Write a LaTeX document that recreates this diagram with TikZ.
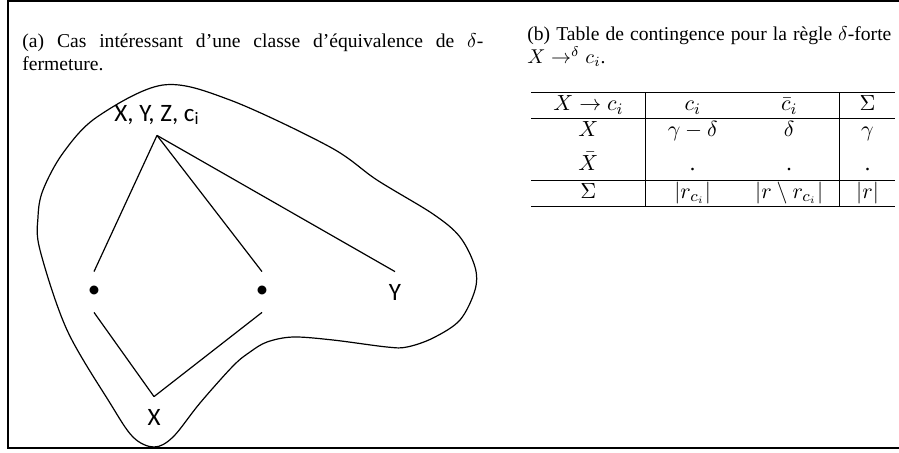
\documentclass[tikz,border=0pt]{standalone}
\usepackage{fontspec}
\setmainfont{Liberation Serif}
\newfontfamily\lblfont{Carlito}
\usepackage{array}
\usepackage{tikz}
\usetikzlibrary{positioning}
\newcolumntype{C}[1]{>{\centering\arraybackslash}p{#1}}
\newcommand{\capsize}{\fontsize{9.8}{11.5}\selectfont}

\begin{document}
\begin{tikzpicture}[x=0.5pt, y=-0.5pt,
    lbl/.style={font=\lblfont\fontsize{12.5}{14}\selectfont, minimum height=20pt, inner sep=0pt},
    edge/.style={line width=0.6pt},
    caption/.style={font=\capsize, inner sep=0pt, anchor=north west, align=justify}]
  \useasboundingbox (0,0) rectangle (899,452);
  \draw[line width=0.6pt] (899,1) -- (8,1) -- (8,448) -- (899,448);

  \node[caption, text width=230.5pt] (capa) at (22,33) {%
    (a) Cas intéressant d'une classe d'équivalence de $\delta$-\linebreak fermeture.};
  \node[caption, text width=182pt] (capb) at (527,26) {%
    (b) Table de contingence pour la règle $\delta$-forte\linebreak $X \rightarrow^{\delta} c_i$.};

  \draw[edge] plot[smooth cycle, tension=0.55] coordinates {
    (163,85) (230,100) (330,147) (377,180) (433,214) (460,237) (475,267)
    (475,290) (460,320) (433,338) (407,347) (387,347) (333,340) (293,337)
    (267,342) (250,352) (233,366) (200,403) (173,437) (154,447) (133,437)
    (110,403) (67,330) (40,250) (38,217) (43,190) (63,153) (97,117)};

  \node[lbl] (top) at (157,115) {X, Y, Z, c\textsubscript{i}};
  \node[lbl] (d1) at (94,292) {\textbullet};
  \node[lbl] (d2) at (262,292) {\textbullet};
  \node[lbl] (y) at (395,292) {Y};
  \node[lbl] (x) at (154,417) {X};
  \draw[edge] (top.south) -- (d1.north);
  \draw[edge] (top.south) -- (d2.north);
  \draw[edge] (top.south) -- (y.north);
  \draw[edge] (d1.south) -- (x.north);
  \draw[edge] (d2.south) -- (x.north);

  \node[font=\fontsize{11}{13.2}\selectfont, inner sep=0pt, anchor=north west] (tab) at (531,92) {%
    \renewcommand{\arraystretch}{0.95}%
    \begin{tabular}{C{45pt}|C{34.5pt}C{38pt}|C{15.5pt}}
      \hline
      $X \rightarrow c_i$ & $c_i$ & $\bar{c}_i$ & $\Sigma$ \\ \hline
      $X$ & $\gamma - \delta$ & $\delta$ & $\gamma$ \\[4pt]
      $\bar{X}$ & . & . & . \\[1pt] \hline
      $\Sigma$ & $|r_{c_i}|$ & $|r \setminus r_{c_i}|$ & $|r|$ \\ \hline
    \end{tabular}};
\end{tikzpicture}
\end{document}
